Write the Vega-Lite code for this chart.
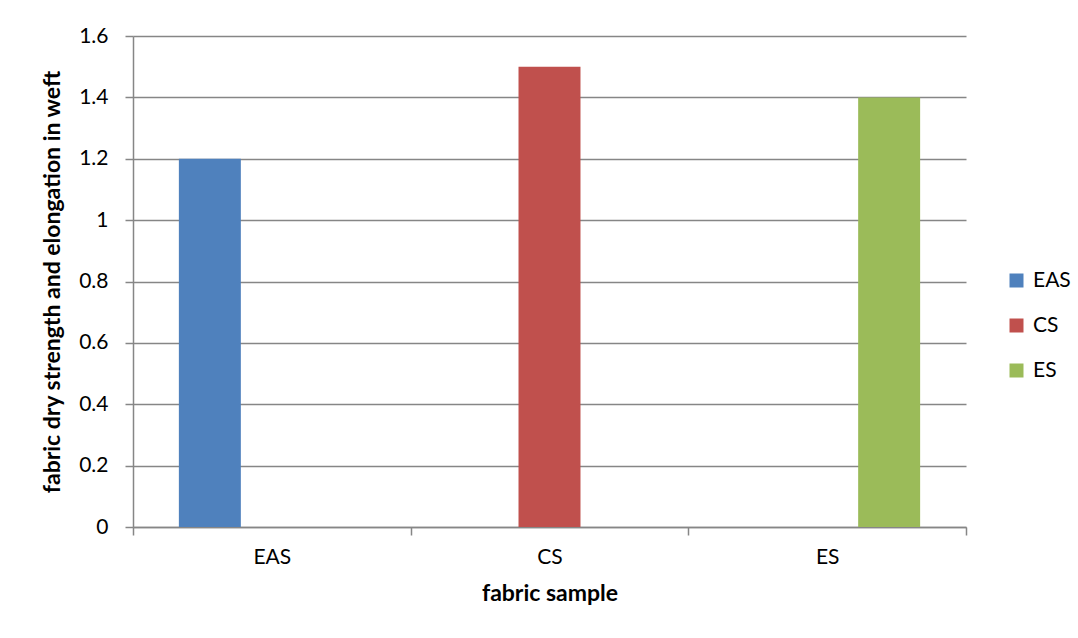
{
  "$schema": "https://vega.github.io/schema/vega-lite/v6.json",
  "width": 833,
  "height": 491,
  "autosize": {"type": "none"},
  "padding": {"left": 133, "top": 36, "right": 112, "bottom": 111},
  "background": "#ffffff",
  "data": {
    "values": [
      {"sample": "EAS", "series": "EAS", "value": 1.2},
      {"sample": "CS", "series": "CS", "value": 1.5},
      {"sample": "ES", "series": "ES", "value": 1.4}
    ]
  },
  "mark": {"type": "bar"},
  "encoding": {
    "x": {
      "field": "sample",
      "type": "nominal",
      "sort": ["EAS", "CS", "ES"],
      "scale": {"domain": ["EAS", "CS", "ES"], "paddingInner": 0, "paddingOuter": 0},
      "axis": {
        "title": "fabric sample",
        "labelAngle": 0,
        "tickBand": "extent",
        "tickSize": 8,
        "labelPadding": 11,
        "titlePadding": 15,
        "grid": false
      }
    },
    "xOffset": {
      "field": "series",
      "type": "nominal",
      "scale": {"domain": ["EAS", "CS", "ES"], "paddingInner": 0, "paddingOuter": 0.74}
    },
    "y": {
      "field": "value",
      "type": "quantitative",
      "scale": {"domain": [0, 1.6], "nice": false},
      "axis": {
        "title": "fabric dry strength and elongation in weft",
        "values": [0, 0.2, 0.4, 0.6, 0.8, 1, 1.2, 1.4, 1.6],
        "format": "~g",
        "tickSize": 8,
        "labelPadding": 17,
        "titlePadding": 14,
        "grid": true
      }
    },
    "color": {
      "field": "series",
      "type": "nominal",
      "scale": {"domain": ["EAS", "CS", "ES"], "range": ["#4F81BD", "#C0504D", "#9BBB59"]},
      "legend": {
        "title": null,
        "orient": "none",
        "legendX": 873,
        "legendY": 234,
        "symbolType": "square",
        "symbolSize": 196,
        "symbolStrokeWidth": 0,
        "labelOffset": 6,
        "rowPadding": 23,
        "padding": 0
      }
    }
  },
  "config": {
    "font": "Lato",
    "view": {"stroke": null},
    "axis": {
      "labelFont": "Lato",
      "labelFontSize": 21,
      "labelColor": "#000000",
      "titleFont": "Lato",
      "titleFontSize": 23,
      "titleFontWeight": "bold",
      "titleColor": "#000000",
      "domainColor": "#868686",
      "domainWidth": 1.5,
      "tickColor": "#868686",
      "tickWidth": 1.5,
      "gridColor": "#868686",
      "gridWidth": 1.4
    },
    "legend": {
      "labelFont": "Lato",
      "labelFontSize": 21,
      "labelColor": "#000000"
    }
  }
}
